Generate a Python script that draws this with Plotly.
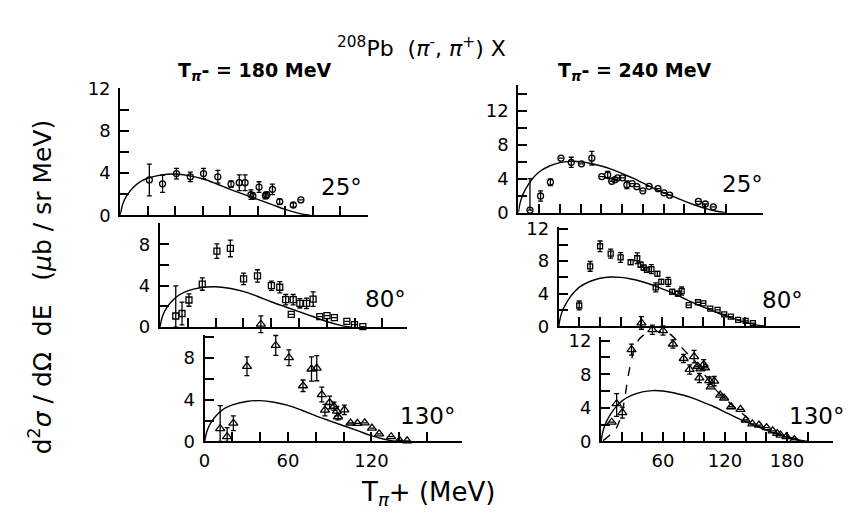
import plotly.graph_objects as go

W, H = 848, 527
FONT = "DejaVu Sans"

# ---------------- data ----------------
# model curves (solid)
curve_x_180 = [0, 2, 5, 10, 15, 20, 30, 40, 50, 60, 70, 80, 90, 100, 110, 120, 130, 138]
curve_y_180 = [0, 1.1, 1.9, 2.7, 3.2, 3.5, 3.82, 3.9, 3.75, 3.45, 2.98, 2.45, 1.97, 1.5, 1.03, 0.55, 0.18, 0]

curve_x_240 = [0, 2, 5, 10, 15, 20, 30, 40, 50, 60, 70, 80, 90, 100, 110, 120, 130, 140, 150, 160, 170, 180, 190, 200]
curve_y_240 = [0, 1.3, 2.3, 3.4, 4.2, 4.8, 5.5, 5.9, 6.05, 6.0, 5.8, 5.5, 5.1, 4.6, 4.1, 3.5, 2.9, 2.35, 1.85, 1.35, 0.9, 0.5, 0.2, 0]

# dashed curve, 240 MeV 130 deg
dash_x_240_130 = [2, 8, 13.5, 17, 20, 23, 26.3, 30, 32.7, 37, 42.3, 47, 52, 58, 65, 72, 78, 85, 90,
                  100, 110, 120, 130, 140, 150, 160, 170, 180, 193]
dash_y_240_130 = [0.1, 0.7, 1.33, 2.2, 3.24, 5.2, 7.8, 10.0, 11.2, 12.2, 12.76, 13.0, 13.1, 13.05, 12.9,
                  12.2, 11.2, 10.3, 9.7, 8.0, 6.3, 5.1, 4.0, 3.0, 2.0, 1.4, 0.88, 0.55, 0.2]

# 180 MeV, 25 deg (circles)
x_180_25 = [21.2, 30.8, 40.9, 51.0, 60.6, 71.0, 80.6, 86.6, 90.8, 95.1, 96.5, 101.0, 105.6, 106.6, 110.7, 116.0, 125.9, 131.4]
y_180_25 = [3.34, 2.97, 3.94, 3.64, 3.94, 3.64, 2.95, 3.08, 3.08, 1.95, 1.82, 2.67, 1.85, 1.92, 2.45, 1.28, 0.97, 1.45]
e_180_25 = [1.5, 0.8, 0.5, 0.45, 0.5, 0.6, 0.3, 0.75, 0.75, 0.45, 0.3, 0.5, 0.3, 0.3, 0.5, 0.25, 0.2, 0]
em_180_25 = e_180_25

# 180 MeV, 80 deg (squares)
x_180_80 = [11.4, 15.9, 20.9, 30.5, 41.0, 50.7, 60.2, 70.2, 80.2, 86.2, 90.5, 94.5, 95.9, 100.7, 105.5, 110.2,
            115.0, 120.2, 125.5, 134.5, 140.0, 146.0]
y_180_80 = [1.08, 1.32, 2.62, 4.16, 7.34, 7.59, 4.66, 4.94, 4.0, 3.85, 2.65, 1.23, 2.65, 2.3, 2.3, 2.71,
            1.02, 1.11, 0.93, 0.55, 0.25, 0.05]
e_180_80 = [2.9, 1.1, 0.6, 0.6, 0.7, 0.8, 0.55, 0.6, 0.45, 0.55, 0.5, 0, 0.5, 0.45, 0.5, 0.7,
            0, 0, 0, 0, 0, 0]
em_180_80 = [1.08, 1.1, 0.6, 0.6, 0.7, 0.8, 0.55, 0.6, 0.45, 0.55, 0.5, 0, 0.5, 0.45, 0.5, 0.7,
             0, 0, 0, 0, 0, 0]

# 180 MeV, 130 deg (triangles)
x_180_130 = [11.2, 16.2, 20.7, 30.5, 40.5, 51.2, 60.7, 70.8, 76.9, 80.7, 84.3, 86.6, 90.0, 93.1, 95.2, 96.0,
             100.6, 105.0, 110.0, 115.2, 120.4, 125.6, 134.2, 140.2, 145.7]
y_180_130 = [1.22, 0.46, 1.74, 7.18, 11.2, 9.17, 8.0, 5.32, 6.92, 7.0, 4.48, 3.0, 3.72, 3.36, 2.9, 2.36,
             3.02, 1.76, 1.72, 1.77, 1.27, 0.72, 0.45, 0.1, 0.06]
e_180_130 = [2.2, 0.85, 0.7, 0.9, 0.8, 0.95, 0.75, 0.55, 1.15, 1.2, 0.7, 0.55, 0.6, 0.4, 0.45, 0.3,
             0.45, 0, 0, 0, 0, 0, 0, 0, 0]
em_180_130 = [1.22, 0.46, 0.7, 0.9, 0.8, 0.95, 0.75, 0.55, 1.15, 1.2, 0.7, 0.55, 0.6, 0.4, 0.45, 0.3,
              0.45, 0, 0, 0, 0, 0, 0, 0, 0]

# 240 MeV, 25 deg (circles)
x_240_25 = [11.2, 21.4, 30.9, 41.1, 51.0, 60.8, 70.8, 80.4, 86.1, 90.0, 93.1, 95.7, 100.4, 104.6, 109.7,
            114.2, 120.0, 126.0, 134.6, 140.4, 145.8, 173.5, 180.2, 187.9]
y_240_25 = [0.3, 1.96, 3.59, 6.42, 5.93, 5.76, 6.42, 4.25, 4.45, 3.7, 3.89, 4.1, 4.1, 3.28, 3.43,
            3.06, 2.57, 3.1, 2.83, 2.34, 2.06, 1.32, 1.02, 0.68]
e_240_25 = [3.7, 0.6, 0.4, 0, 0.6, 0, 0.8, 0, 0.4, 0, 0, 0, 0, 0.45, 0,
            0, 0, 0, 0, 0, 0, 0, 0, 0]
em_240_25 = [0, 0.6, 0.4, 0, 0.6, 0, 0.8, 0, 0.4, 0, 0, 0, 0, 0.45, 0,
             0, 0, 0, 0, 0, 0, 0, 0, 0]

# 240 MeV, 80 deg (squares)
x_240_80 = [19.8, 30.4, 40.0, 50.3, 59.9, 69.6, 76.0, 79.2, 82.2, 85.4, 89.7, 93.9, 95.5, 99.3, 106.0,
            109.9, 115.4, 119.0, 125.9, 134.8, 140.0, 146.7, 153.8, 160.2, 166.6, 173.7, 181.0, 188.0]
y_240_80 = [2.55, 7.36, 9.83, 8.93, 8.46, 7.87, 8.36, 7.57, 7.2, 6.92, 7.02, 4.78, 6.44, 5.45, 5.46,
            4.22, 4.0, 4.32, 2.59, 2.95, 2.8, 2.16, 2.02, 1.45, 1.18, 0.78, 0.66, 0.39]
e_240_80 = [0.55, 0.6, 0.65, 0.55, 0.6, 0.3, 0.65, 0.3, 0.3, 0.3, 0.55, 0.55, 0.3, 0.3, 0.55,
            0.3, 0.3, 0.5, 0, 0, 0, 0, 0, 0, 0, 0, 0, 0]
em_240_80 = e_240_80

# 240 MeV, 130 deg (triangles)
x_240_130 = [10.3, 15.1, 20.6, 29.5, 39.1, 49.7, 60.0, 69.6, 80.0, 85.8, 90.1, 93.6, 95.2, 96.2, 99.4,
             100.7, 104.8, 106.2, 109.6, 115.4, 119.2, 126.0, 135.0, 140.1, 146.5, 152.9, 160.3, 166.2,
             170.6, 173.8, 179.5, 187.2]
y_240_130 = [2.29, 4.49, 3.43, 10.93, 14.1, 13.3, 13.2, 11.6, 9.87, 8.57, 10.1, 8.95, 7.56, 8.64, 9.14,
             8.76, 7.24, 6.5, 7.18, 5.52, 5.17, 4.13, 3.81, 2.55, 2.09, 1.95, 1.65, 1.26,
             0.95, 0.76, 0.57, 0.23]
e_240_130 = [0, 1.2, 0.65, 0.65, 0.75, 0.55, 0.55, 0.5, 0.5, 0.55, 0.75, 0, 0.55, 0, 0.6,
             0, 0.45, 0, 0.55, 0, 0, 0, 0, 0, 0, 0, 0, 0, 0, 0, 0, 0]
em_240_130 = [0, 1.5, 0.65, 0.65, 0.75, 0.55, 0.55, 0.5, 0.5, 0.55, 0.75, 0, 0.55, 0, 0.6,
              0, 0.45, 0, 0.55, 0, 0, 0, 0, 0, 0, 0, 0, 0, 0, 0, 0, 0]

# tick labels
y_labels = {0: "0", 4: "4", 8: "8", 12: "12"}
x_labels_left = {0: "0", 60: "60", 120: "120"}
x_labels_right = {60: "60", 120: "120", 180: "180"}

# ---------------- panel geometry (pixels) ----------------
panels = [
    dict(x0=115, y0=212.7, sx=1.385, sy=11.0, xmax=180, ymax=12, xt=range(0, 161, 20), yt=range(0, 13, 2),
         xl={}, data=[(x_180_25, y_180_25, e_180_25, em_180_25, "circle-open", 6)],
         curves=[(curve_x_180, curve_y_180)], dashed=[]),
    dict(x0=155, y0=329.3, sx=1.4, sy=10.8, xmax=178, ymax=10, xt=range(0, 161, 20), yt=range(0, 9, 2),
         xl={}, data=[(x_180_80, y_180_80, e_180_80, em_180_80, "square-open", 6)],
         curves=[(curve_x_180, curve_y_180)], dashed=[]),
    dict(x0=200, y0=448.3, sx=1.4, sy=10.9, xmax=185, ymax=10.2, xt=range(0, 161, 20), yt=range(0, 11, 2),
         xl=x_labels_left, data=[(x_180_130, y_180_130, e_180_130, em_180_130, "triangle-up-open", 8)],
         curves=[(curve_x_180, curve_y_180)], dashed=[]),
    dict(x0=516, y0=210, sx=1.045, sy=8.83, xmax=236, ymax=15, xt=range(0, 201, 20), yt=range(0, 15, 2),
         xl={}, data=[(x_240_25, y_240_25, e_240_25, em_240_25, "circle-open", 6)],
         curves=[(curve_x_240, curve_y_240)], dashed=[]),
    dict(x0=556.7, y0=328.3, sx=1.04, sy=8.47, xmax=234, ymax=12.2, xt=range(0, 201, 20), yt=range(0, 13, 2),
         xl={}, data=[(x_240_80, y_240_80, e_240_80, em_240_80, "square-open", 5)],
         curves=[(curve_x_240, curve_y_240)], dashed=[]),
    dict(x0=599.3, y0=448.3, sx=1.04, sy=8.75, xmax=225, ymax=12.4, xt=range(0, 201, 20), yt=range(0, 13, 2),
         xl=x_labels_right, data=[(x_240_130, y_240_130, e_240_130, em_240_130, "triangle-up-open", 8)],
         curves=[(curve_x_240, curve_y_240)], dashed=[(dash_x_240_130, dash_y_240_130)]),
]


def names(n):
    s = "" if n == 1 else str(n)
    return "xaxis" + s, "yaxis" + s, "x" + s, "y" + s


fig = go.Figure()
layout = {}
tickfont = dict(family=FONT, size=18, color="black")

for i, p in enumerate(panels):
    fx, fy, fxr, fyr = names(2 * i + 1)
    dx, dy, dxr, dyr = names(2 * i + 2)
    x0, y0, sx, sy = p["x0"], p["y0"], p["sx"], p["sy"]
    # visible frame axes
    layout[fx] = dict(domain=[x0 / W, (x0 + p["xmax"] * sx) / W], range=[0, p["xmax"]], anchor=fyr,
                      showline=True, linewidth=2, linecolor="black", ticks="inside", ticklen=9,
                      tickwidth=1.5, tickcolor="black", tickvals=list(p["xt"]),
                      ticktext=[p["xl"].get(v, "") for v in p["xt"]], showgrid=False, zeroline=False,
                      tickfont=tickfont, fixedrange=True, ticklabelstandoff=2)
    layout[fy] = dict(domain=[1 - y0 / H, 1 - (y0 - p["ymax"] * sy) / H], range=[0, p["ymax"]], anchor=fxr,
                      showline=True, linewidth=2, linecolor="black", ticks="inside", ticklen=9,
                      tickwidth=1.5, tickcolor="black", tickvals=list(p["yt"]),
                      ticktext=[y_labels.get(v, "") for v in p["yt"]], showgrid=False, zeroline=False,
                      tickfont=tickfont, fixedrange=True, ticklabelstandoff=4)
    # invisible data axes with identical scale but larger extent (so marks may overhang the frame)
    xlo, xhi = -8, p["xmax"] + 4
    ylo, yhi = -1.5, p["ymax"] + 4
    layout[dx] = dict(domain=[(x0 + xlo * sx) / W, (x0 + xhi * sx) / W], range=[xlo, xhi], anchor=dyr,
                      visible=False, fixedrange=True)
    layout[dy] = dict(domain=[1 - (y0 - ylo * sy) / H, 1 - (y0 - yhi * sy) / H], range=[ylo, yhi], anchor=dxr,
                      visible=False, fixedrange=True)
    for cx, cy in p["curves"]:
        fig.add_trace(go.Scatter(x=cx, y=cy, mode="lines", line=dict(color="black", width=1.4, shape="spline"),
                                 xaxis=fxr, yaxis=fyr, showlegend=False, hoverinfo="skip"))
    for cx, cy in p["dashed"]:
        fig.add_trace(go.Scatter(x=cx, y=cy, mode="lines",
                                 line=dict(color="black", width=1.4, dash="dash", shape="spline"),
                                 xaxis=dxr, yaxis=dyr, showlegend=False, hoverinfo="skip"))
    for xs, ys, ep, em, sym, size in p["data"]:
        fig.add_trace(go.Scatter(x=xs, y=ys, mode="markers",
                                 marker=dict(symbol=sym, size=size, color="black", line=dict(width=1.3, color="black")),
                                 error_y=dict(type="data", symmetric=False, array=ep, arrayminus=em,
                                              color="black", thickness=1.3, width=2.5),
                                 xaxis=dxr, yaxis=dyr, showlegend=False))


def ann(text, px, py, size, angle=0):
    return dict(text=text, x=px / W, y=1 - py / H, xref="paper", yref="paper", showarrow=False,
                xanchor="center", yanchor="middle", textangle=angle,
                font=dict(family=FONT, size=size, color="black"))


annotations = [
    ann("<sup>208</sup>Pb  (<i>π</i><sup>-</sup>, <i>π</i><sup>+</sup>) X", 418, 37, 22),
    ann("<b>T<sub><i>π</i></sub>- = 180 MeV</b>", 251, 63, 19),
    ann("<b>T<sub><i>π</i></sub>- = 240 MeV</b>", 633, 63, 19),
    ann("25°", 338, 183, 23),
    ann("80°", 382, 300, 23),
    ann("130°", 424, 422, 23),
    ann("25°", 742, 180, 23),
    ann("80°", 782, 301, 23),
    ann("130°", 816, 422, 23),
    ann("d<sup>2</sup><i>σ</i> / dΩ  dE   (<i>μ</i>b / sr MeV)", 35, 288, 25, -90),
    ann("T<sub><i>π</i></sub>+ (MeV)", 425, 503, 26),
]

fig.update_layout(width=W, height=H, margin=dict(l=0, r=0, t=0, b=0), paper_bgcolor="white",
                  plot_bgcolor="rgba(0,0,0,0)", annotations=annotations, showlegend=False, **layout)

fig.write_html("out.html")
